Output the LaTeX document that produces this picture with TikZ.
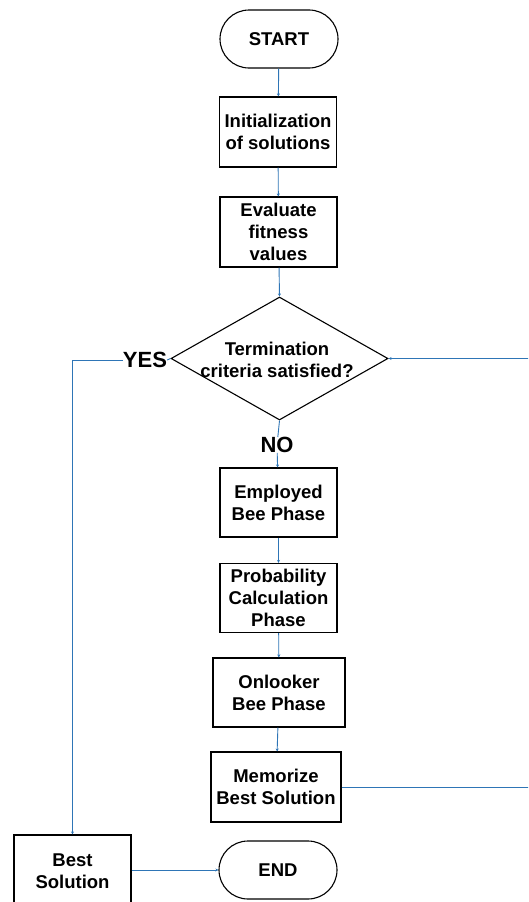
\documentclass[tikz,border=0pt]{standalone}
\usepackage{fontspec}
\setmainfont{Liberation Sans}
\usetikzlibrary{shapes.geometric,arrows.meta}
\definecolor{conn}{RGB}{46,117,182}
\tikzset{
  x=1pt,y=-1pt,
  stepbox/.style={draw=black,line width=1.1pt,fill=white,align=center,inner sep=0pt,
    font=\fontsize{18.5}{22}\selectfont\bfseries},
  termbox/.style={stepbox,rounded corners=29pt,minimum width=118pt,minimum height=58pt},
  lbl/.style={font=\fontsize{22}{24}\selectfont\bfseries,inner sep=0pt},
  link/.style={draw=conn,line width=0.9pt,-{Stealth[length=3pt,width=3pt]}},
  plain/.style={draw=conn,line width=0.9pt}
}
\begin{document}
\begin{tikzpicture}
\useasboundingbox (0,0) rectangle (528,902);
\clip (0,0) rectangle (528,902);
\node[termbox] (start) at (279,39) {START};
\node[stepbox,minimum width=117pt,minimum height=70pt] (init) at (278,132) {Initialization\\of solutions};
\node[stepbox,minimum width=117pt,minimum height=70pt] (eval) at (278.5,232) {Evaluate\\fitness\\values};
\node[diamond,draw=black,line width=1.1pt,fill=white,minimum width=217pt,minimum height=123pt,inner sep=0pt] (dia) at (279.5,358.5) {};
\node[align=center,inner sep=0pt,font=\fontsize{18.5}{22.5}\selectfont\bfseries] (diatext) at (277,360) {Termination\\criteria satisfied?};
\node[lbl] (yes) at (145,360) {YES};
\node[lbl] (no) at (277,445) {NO};
\node[stepbox,minimum width=117pt,minimum height=69pt] (emp) at (278.5,502.5) {Employed\\Bee Phase};
\node[stepbox,minimum width=117pt,minimum height=69pt] (prob) at (278.5,598) {Probability\\Calculation\\Phase};
\node[stepbox,minimum width=132pt,minimum height=69pt] (onl) at (279,692.5) {Onlooker\\Bee Phase};
\node[stepbox,minimum width=130pt,minimum height=70pt] (mem) at (276,787) {Memorize\\Best Solution};
\node[stepbox,minimum width=117pt,minimum height=72pt] (best) at (72.5,871) {Best\\Solution};
\node[termbox] (end) at (278,870) {END};
\coordinate (rt) at (560,0);
\draw[link] (start) -- (init);
\draw[link] (init) -- (eval);
\draw[link] (eval) -- (dia.north);
\draw[plain] (dia.south) -- (no);
\draw[link] (no) -- (emp);
\draw[link] (emp) -- (prob);
\draw[link] (prob) -- (onl);
\draw[link] (onl) -- (mem);
\draw[link] (yes.west) -| (best.north);
\draw[plain] (dia.west) -- (yes.east);
\draw[link] (mem.east) -| (rt) |- (dia.east);
\draw[link] (best.east |- end.west) -- (end.west);
\end{tikzpicture}
\end{document}
